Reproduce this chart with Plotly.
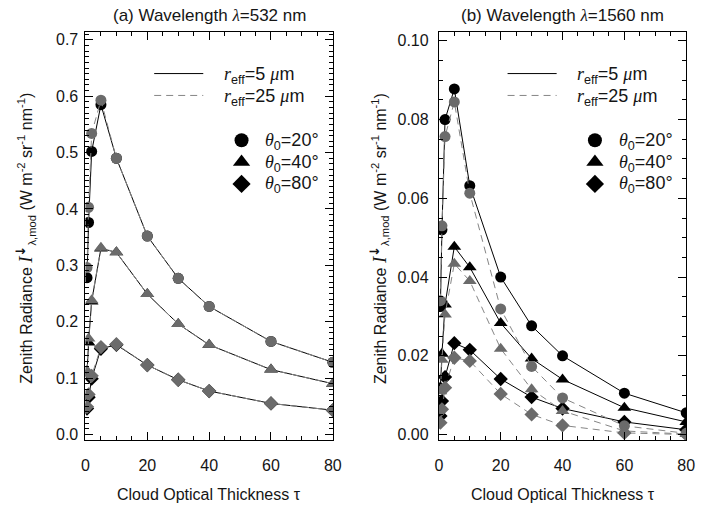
import plotly.graph_objects as go

# ---------------- data ----------------
tau = [0.5, 1, 2, 5, 10, 20, 30, 40, 60, 80]

# (a) 532 nm
a_r5_t20 = [0.278, 0.376, 0.502, 0.585, 0.490, 0.352, 0.277, 0.227, 0.165, 0.128]
a_r5_t40 = [0.108, 0.163, 0.236, 0.330, 0.323, 0.249, 0.196, 0.159, 0.115, 0.090]
a_r5_t80 = [0.046, 0.066, 0.099, 0.152, 0.159, 0.123, 0.097, 0.077, 0.055, 0.043]
a_r25_t20 = [0.296, 0.403, 0.534, 0.593, 0.490, 0.352, 0.277, 0.227, 0.165, 0.128]
a_r25_t40 = [0.113, 0.170, 0.238, 0.331, 0.323, 0.249, 0.196, 0.159, 0.115, 0.090]
a_r25_t80 = [0.049, 0.071, 0.104, 0.155, 0.160, 0.123, 0.097, 0.077, 0.055, 0.043]

# (b) 1560 nm
b_r5_t20 = [0.0325, 0.0520, 0.0800, 0.0878, 0.0632, 0.0400, 0.0276, 0.0200, 0.0105, 0.0055]
b_r5_t40 = [0.0120, 0.0205, 0.0330, 0.0477, 0.0425, 0.0283, 0.0193, 0.0140, 0.0068, 0.0032]
b_r5_t80 = [0.0047, 0.0085, 0.0146, 0.0232, 0.0215, 0.0141, 0.0095, 0.0066, 0.0032, 0.0012]
b_r25_t20 = [0.0340, 0.0530, 0.0757, 0.0845, 0.0613, 0.0319, 0.0173, 0.0093, 0.0022, 0.0003]
b_r25_t40 = [0.0110, 0.0190, 0.0305, 0.0434, 0.0390, 0.0218, 0.0115, 0.0060, 0.0009, 0.0001]
b_r25_t80 = [0.0030, 0.0064, 0.0119, 0.0195, 0.0187, 0.0103, 0.0051, 0.0023, 0.0004, 0.0000]

x_ticks = [0, 20, 40, 60, 80]
a_yticks = [0.0, 0.1, 0.2, 0.3, 0.4, 0.5, 0.6, 0.7]
b_yticks = [0.00, 0.02, 0.04, 0.06, 0.08, 0.10]

SERIF = "<span style=\"font-family:'Liberation Serif'\">"
panel_titles = ["(a) Wavelength " + SERIF + "<i>λ</i></span>=532 nm",
                "(b) Wavelength " + SERIF + "<i>λ</i></span>=1560 nm"]
x_title = "Cloud Optical Thickness τ"
y_title = ("Zenith Radiance <span style=\"font-family:'Liberation Serif';font-size:19px\"><i>I</i></span>"
           "<sup><span style=\"font-family:'DejaVu Sans';font-size:13px\"><b>↓</b></span></sup>"
           "<sub>λ,mod</sub> "
           "(W m<sup>-2</sup> sr<sup>-1</sup> nm<sup>-1</sup>)")
reff_labels = [SERIF + "<i>r</i></span><sub>eff</sub>=5 " + SERIF + "<i>μ</i></span>m",
               SERIF + "<i>r</i></span><sub>eff</sub>=25 " + SERIF + "<i>μ</i></span>m"]
theta_labels = [SERIF + "<i>θ</i></span><sub>0</sub>=20°",
                SERIF + "<i>θ</i></span><sub>0</sub>=40°",
                SERIF + "<i>θ</i></span><sub>0</sub>=80°"]

# ---------------- style ----------------
W, H = 707, 513
FONT = "Liberation Sans, Arial, sans-serif"
TXT = "#151515"
BLACK = "#000000"
GRAY_M = "#6b6b6b"
GRAY_L = "#858585"
symbols = ["circle", "triangle-up", "diamond"]
msizes = [11, 12, 11]
DASH = "7px,5px"

# panel pixel boxes (left, right, top, bottom)
panels = [(83, 335, 32, 443), (443, 695, 32, 443)]

fig = go.Figure()

def add_panel(xa, ya, r5, r25):
    for ys, sym, ms in zip(r5, symbols, msizes):
        fig.add_trace(go.Scatter(x=tau, y=ys, mode="lines+markers", xaxis=xa, yaxis=ya,
                                 line=dict(color=BLACK, width=1),
                                 marker=dict(symbol=sym, size=ms, color=BLACK, line=dict(width=0)),
                                 showlegend=False, hoverinfo="skip"))
    for ys, sym, ms in zip(r25, symbols, msizes):
        fig.add_trace(go.Scatter(x=tau, y=ys, mode="lines+markers", xaxis=xa, yaxis=ya,
                                 line=dict(color=GRAY_L, width=1, dash=DASH),
                                 marker=dict(symbol=sym, size=ms, color=GRAY_M, line=dict(width=0)),
                                 showlegend=False, hoverinfo="skip"))

add_panel("x", "y", [a_r5_t20, a_r5_t40, a_r5_t80], [a_r25_t20, a_r25_t40, a_r25_t80])
add_panel("x2", "y2", [b_r5_t20, b_r5_t40, b_r5_t80], [b_r25_t20, b_r25_t40, b_r25_t80])

# legend glyphs on a full-figure pixel overlay (x3/y3)
for k, (L, R, T, B) in enumerate(panels):
    off = L - 83
    fig.add_trace(go.Scatter(x=[153 + off, 203 + off], y=[74, 74], mode="lines", xaxis="x3", yaxis="y3",
                             line=dict(color=BLACK, width=1), showlegend=False, hoverinfo="skip"))
    fig.add_trace(go.Scatter(x=[153 + off, 203 + off], y=[96, 96], mode="lines", xaxis="x3", yaxis="y3",
                             line=dict(color=GRAY_L, width=1, dash=DASH), showlegend=False, hoverinfo="skip"))
    for j, (sym, ms) in enumerate(zip(symbols, msizes)):
        fig.add_trace(go.Scatter(x=[242 + off], y=[141 + 22 * j], mode="markers", xaxis="x3", yaxis="y3",
                                 marker=dict(symbol=sym, size=ms + 3, color=BLACK, line=dict(width=0)),
                                 showlegend=False, hoverinfo="skip"))
    for j, txt in enumerate(reff_labels):
        fig.add_annotation(x=222 + off, y=76 + 22 * j, xref="x3", yref="y3", text=txt, showarrow=False,
                           xanchor="left", yanchor="middle", font=dict(family=FONT, size=18, color=TXT))
    for j, txt in enumerate(theta_labels):
        fig.add_annotation(x=264 + off, y=142 + 22 * j, xref="x3", yref="y3", text=txt, showarrow=False,
                           xanchor="left", yanchor="middle", font=dict(family=FONT, size=18, color=TXT))
    cx = (L + R) / 2
    fig.add_annotation(x=cx, y=16, xref="x3", yref="y3", text=panel_titles[k], showarrow=False,
                       xanchor="center", yanchor="middle", font=dict(family=FONT, size=17, color=TXT))
    fig.add_annotation(x=cx, y=497, xref="x3", yref="y3", text=x_title, showarrow=False,
                       xanchor="center", yanchor="middle", font=dict(family=FONT, size=16, color=TXT))
    fig.add_annotation(x=L - 61, y=(T + B) / 2 + 2, xref="x3", yref="y3", text=y_title, showarrow=False,
                       textangle=-90, xanchor="center", yanchor="middle",
                       font=dict(family=FONT, size=16, color=TXT))

def dom_x(L, R):
    return [L / W, R / W]

def dom_y(T, B):
    return [(H - B) / H, (H - T) / H]

common_x = dict(range=[0, 80], tickvals=x_ticks, ticktext=[str(v) for v in x_ticks],
                ticks="inside", ticklen=8, tickwidth=1, tickcolor=BLACK,
                minor=dict(dtick=5, tick0=0, ticks="inside", ticklen=4, tickwidth=1, tickcolor=BLACK),
                showline=True, linecolor=BLACK, linewidth=1, mirror="allticks",
                showgrid=False, zeroline=False,
                tickfont=dict(family=FONT, size=16, color=TXT), ticklabelstandoff=10)

fig.update_layout(
    width=W, height=H, margin=dict(l=0, r=0, t=0, b=0),
    paper_bgcolor="white", plot_bgcolor="rgba(0,0,0,0)",
    showlegend=False,
    xaxis=dict(domain=dom_x(83, 335), anchor="y", **common_x),
    xaxis2=dict(domain=dom_x(443, 695), anchor="y2", **common_x),
    yaxis=dict(domain=dom_y(32, 443), anchor="x", range=[-0.0106, 0.7143],
               tickvals=a_yticks, ticktext=[f"{v:.1f}" for v in a_yticks],
               ticks="inside", ticklen=8, tickwidth=1, tickcolor=BLACK,
               minor=dict(dtick=0.01, tick0=0, ticks="inside", ticklen=4, tickwidth=1, tickcolor=BLACK),
               showline=True, linecolor=BLACK, linewidth=1, mirror="allticks",
               showgrid=False, zeroline=False,
               tickfont=dict(family=FONT, size=16, color=TXT), ticklabelstandoff=3),
    yaxis2=dict(domain=dom_y(32, 443), anchor="x2", range=[-0.0015, 0.1023],
                tickvals=b_yticks, ticktext=[f"{v:.2f}" for v in b_yticks],
                ticks="inside", ticklen=8, tickwidth=1, tickcolor=BLACK,
                minor=dict(dtick=0.005, tick0=0, ticks="inside", ticklen=4, tickwidth=1, tickcolor=BLACK),
                showline=True, linecolor=BLACK, linewidth=1, mirror="allticks",
                showgrid=False, zeroline=False,
                tickfont=dict(family=FONT, size=16, color=TXT), ticklabelstandoff=6),
    xaxis3=dict(domain=[0, 1], anchor="y3", range=[0, W], visible=False, fixedrange=True),
    yaxis3=dict(domain=[0, 1], anchor="x3", range=[H, 0], visible=False, fixedrange=True),
)

fig.write_html("out.html")
